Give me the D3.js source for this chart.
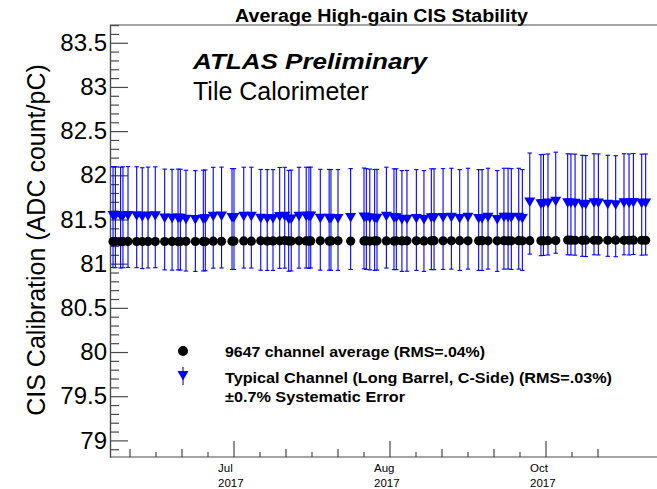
<!DOCTYPE html>
<html><head><meta charset="utf-8">
<script src="https://cdn.jsdelivr.net/npm/d3@7"></script>
<style>body{margin:0;background:#fff}svg{display:block}text{font-family:"Liberation Sans",Arial,Helvetica,sans-serif}</style>
</head><body>
<svg id="c" width="657" height="489"></svg>
<script>
// ---- data ----
const runDates = [
"2017-06-28 02:00","2017-06-28 15:00","2017-06-29 20:00","2017-06-30 09:00","2017-07-01 13:00",
"2017-07-03 13:00","2017-07-04 20:00","2017-07-06 04:00","2017-07-07 20:00","2017-07-10 00:00",
"2017-07-11 17:00","2017-07-13 02:00","2017-07-13 15:00","2017-07-14 22:00","2017-07-17 02:00",
"2017-07-18 22:00","2017-07-19 09:00","2017-07-21 05:00","2017-07-23 03:00","2017-07-25 13:00",
"2017-07-26 00:00","2017-07-28 06:00","2017-07-30 00:00","2017-08-01 04:00","2017-08-02 16:00",
"2017-08-04 00:00","2017-08-05 13:00","2017-08-06 17:00","2017-08-07 15:00","2017-08-08 05:00",
"2017-08-10 00:00","2017-08-11 16:00","2017-08-12 07:00","2017-08-12 17:00","2017-08-14 22:00",
"2017-08-16 23:00","2017-08-17 09:00","2017-08-19 00:00","2017-08-21 22:00","2017-08-25 00:00",
"2017-08-25 13:00","2017-08-26 08:00","2017-08-27 11:00","2017-08-28 00:00","2017-08-30 04:00",
"2017-08-31 22:00","2017-09-01 11:00","2017-09-02 18:00","2017-09-03 22:00","2017-09-06 02:00",
"2017-09-07 20:00","2017-09-09 13:00","2017-09-10 04:00","2017-09-12 06:00","2017-09-14 04:00",
"2017-09-16 02:00","2017-09-18 00:00","2017-09-20 11:00","2017-09-21 06:00","2017-09-22 15:00",
"2017-09-24 18:00","2017-09-26 07:00","2017-09-27 06:00","2017-09-28 00:00","2017-09-29 17:00",
"2017-09-30 13:00","2017-10-02 06:00","2017-10-04 20:00","2017-10-05 10:00","2017-10-06 11:00",
"2017-10-08 06:00","2017-10-11 00:00","2017-10-11 18:00","2017-10-12 17:00","2017-10-14 09:00",
"2017-10-15 04:00","2017-10-17 02:00","2017-10-18 02:00","2017-10-20 06:00","2017-10-22 02:00",
"2017-10-24 00:00","2017-10-25 04:00","2017-10-26 04:00","2017-10-28 02:00","2017-10-29 00:00"
];
const avgValues = [
81.250,81.251,81.249,81.250,81.252,81.251,81.250,81.252,81.250,81.251,
81.252,81.250,81.251,81.253,81.251,81.252,81.250,81.254,81.253,81.255,
81.256,81.257,81.255,81.258,81.256,81.257,81.259,81.262,81.257,81.256,
81.258,81.257,81.256,81.257,81.258,81.256,81.257,81.258,81.256,81.257,
81.258,81.256,81.257,81.258,81.257,81.256,81.258,81.257,81.258,81.259,
81.257,81.258,81.260,81.258,81.259,81.260,81.258,81.259,81.260,81.258,
81.259,81.260,81.259,81.258,81.260,
81.259,81.260,81.259,81.258,81.260,81.261,81.268,81.266,81.265,81.264,
81.266,81.265,81.264,81.265,81.266,81.264,81.265,81.266,81.265,81.264
];
const typValues = [
81.527,81.525,81.522,81.525,81.528,
81.526,81.515,81.522,81.525,81.500,
81.497,81.500,81.498,81.487,81.483,
81.488,81.490,81.520,81.522,81.505,
81.505,81.521,81.521,81.496,81.494,
81.494,81.518,81.520,81.485,81.488,
81.520,81.521,81.519,81.522,81.497,
81.496,81.495,81.494,81.505,81.512,
81.505,81.500,81.495,81.497,81.521,
81.503,81.503,81.483,81.485,81.494,
81.483,81.503,81.503,81.505,81.509,
81.494,81.509,81.494,81.494,81.509,
81.483,81.509,81.509,81.505,81.509,
81.494,81.680,81.662,81.665,81.670,
81.690,81.672,81.670,81.668,81.655,
81.652,81.672,81.670,81.655,81.650,
81.672,81.670,81.675,81.668,81.670
];
const systematicError = 0.007;
const yMajorTicks = [79, 79.5, 80, 80.5, 81, 81.5, 82, 82.5, 83, 83.5];
const yTickLabels = ["79","79.5","80","80.5","81","81.5","82","82.5","83","83.5"];
const xTickFirst = "2017-07-02 00:00", xTickLast = "2017-10-18 00:00";
const xLabelDates = ["2017-07-26 00:00","2017-08-31 00:00","2017-10-06 00:00"];
const titleText = "Average High-gain CIS Stability";
const yTitle = "CIS Calibration (ADC count/pC)";
const legendLabels = ["9647 channel average (RMS=.04%)",
                      "Typical Channel (Long Barrel, C-Side) (RMS=.03%)",
                      "\u00b10.7% Systematic Error"];

// ---- chart ----
const parse = d3.utcParse("%Y-%m-%d %H:%M");
const svg = d3.select("#c");
const L = 110, R = 662, T = 25, B = 457;
const x = d3.scaleUtc().domain([parse("2017-06-27 09:14"), parse("2017-11-01 18:28")]).range([L, R]);
const y = d3.scaleLinear().domain([78.812, 83.701]).range([B, T]);
const axisCol = "#4a4a4a";

// title
svg.append("text").attr("x", 381.5).attr("y", 21.5).attr("text-anchor", "middle")
  .attr("font-weight", "bold").attr("font-size", 17.5)
  .attr("textLength", 293).attr("lengthAdjust", "spacingAndGlyphs").text(titleText);

// frame top line
svg.append("line").attr("x1", L).attr("x2", R).attr("y1", T).attr("y2", T)
  .attr("stroke", axisCol).attr("stroke-width", 1.2);

// y axis
const yMinor = d3.range(788, 838).map(v => v / 10).filter(v => v > 78.812 && v < 83.701 && Math.abs(v * 2 - Math.round(v * 2)) > 1e-6);
const gyMinor = svg.append("g").attr("transform", `translate(${L},0)`)
  .call(d3.axisLeft(y).tickValues(yMinor).tickSizeInner(-9).tickSizeOuter(0).tickFormat(""));
const gy = svg.append("g").attr("transform", `translate(${L},0)`)
  .call(d3.axisLeft(y).tickValues(yMajorTicks).tickSizeInner(-18).tickSizeOuter(0).tickPadding(3)
    .tickFormat((d, i) => yTickLabels[i]));
[gy, gyMinor].forEach(g => {
  g.selectAll("path.domain").attr("stroke", axisCol).attr("stroke-width", 1.2);
  g.selectAll(".tick line").attr("stroke", axisCol).attr("stroke-width", 1.2);
});
gy.selectAll(".tick text").attr("font-size", 24).attr("fill", "#000")
  .style("font-family", '"Liberation Sans",Arial,sans-serif');

svg.append("text").attr("transform", "rotate(-90)").attr("x", -240).attr("y", 45)
  .attr("text-anchor", "middle").attr("font-size", 25).text(yTitle);

// x axis
const xTicks = d3.utcDay.range(parse(xTickFirst), d3.utcDay.offset(parse(xTickLast), 1), 6);
const gx = svg.append("g").attr("transform", `translate(0,${B})`);
gx.append("line").attr("x1", L).attr("x2", R).attr("y1", 0).attr("y2", 0)
  .attr("stroke", axisCol).attr("stroke-width", 1.2);
const labelSet = new Set(xLabelDates.map(s => +parse(s)));
xTicks.forEach((d, i) => {
  const major = labelSet.has(+d);
  const len = major ? 16 : (i % 2 === 0 ? 8 : 5);
  gx.append("line").attr("x1", x(d)).attr("x2", x(d)).attr("y1", 0).attr("y2", -len)
    .attr("stroke", axisCol).attr("stroke-width", 1.2);
});
const fmtM = d3.utcFormat("%b"), fmtY = d3.utcFormat("%Y");
xLabelDates.map(parse).forEach(d => {
  const t = svg.append("text").attr("font-size", 11.5).attr("x", x(d) - 16);
  t.append("tspan").attr("x", x(d) - 16).attr("y", 472).text(fmtM(d));
  t.append("tspan").attr("x", x(d) - 16).attr("y", 487).text(fmtY(d));
});

// data
const data = runDates.map((s, i) => ({ t: parse(s), avg: avgValues[i], typ: typValues[i] }));
const tri = "M-5.5,-6L5.5,-6L0,3.5Z";
const gTyp = svg.append("g");
data.forEach(d => {
  const lo = y(d.typ * (1 - systematicError)), hi = y(d.typ * (1 + systematicError)), cx = x(d.t);
  gTyp.append("line").attr("x1", cx).attr("x2", cx).attr("y1", lo).attr("y2", hi)
    .attr("stroke", "#0000ff").attr("stroke-width", 1.1);
  [lo, hi].forEach(yy => gTyp.append("line").attr("x1", cx - 2.2).attr("x2", cx + 2.2)
    .attr("y1", yy).attr("y2", yy).attr("stroke", "#0000ff").attr("stroke-width", 1.1));
});
gTyp.selectAll("path").data(data).join("path")
  .attr("d", tri).attr("fill", "#0000ff")
  .attr("transform", d => `translate(${x(d.t)},${y(d.typ)})`);
svg.append("g").selectAll("circle").data(data).join("circle")
  .attr("cx", d => x(d.t)).attr("cy", d => y(d.avg)).attr("r", 4.6).attr("fill", "#000");

// labels
svg.append("text").attr("x", 193).attr("y", 69).attr("font-size", 22)
  .attr("font-weight", "bold").attr("font-style", "italic")
  .attr("textLength", 234).attr("lengthAdjust", "spacingAndGlyphs").text("ATLAS Preliminary");
svg.append("text").attr("x", 193).attr("y", 100).attr("font-size", 25).text("Tile Calorimeter");

// legend
svg.append("circle").attr("cx", 183).attr("cy", 351).attr("r", 5).attr("fill", "#000");
svg.append("line").attr("x1", 183).attr("x2", 183).attr("y1", 367).attr("y2", 385)
  .attr("stroke", "#0000ff").attr("stroke-width", 1.1);
svg.append("path").attr("d", tri).attr("fill", "#0000ff").attr("transform", "translate(183,377)");
const legY = [356.5, 383, 402], legW = [260, 387, 180];
legendLabels.forEach((s, i) => {
  svg.append("text").attr("x", 225).attr("y", legY[i]).attr("font-size", 14.5)
    .attr("font-weight", "bold").attr("textLength", legW[i]).attr("lengthAdjust", "spacingAndGlyphs").text(s);
});
</script>
</body></html>
